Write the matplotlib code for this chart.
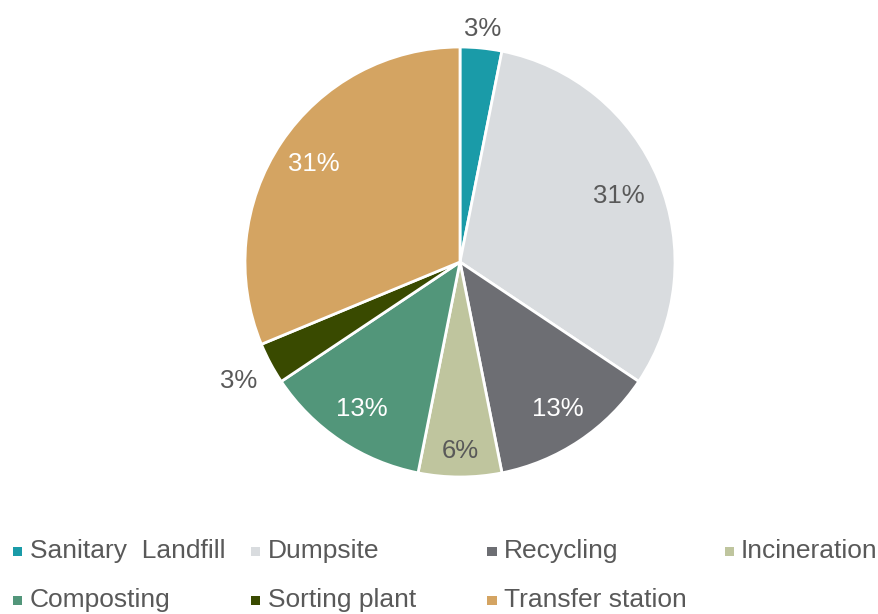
import numpy as np
import matplotlib.pyplot as plt
from matplotlib.patches import Rectangle

plt.rcParams['font.family'] = ['Liberation Sans', 'DejaVu Sans']

# Data
labels = ['Sanitary  Landfill', 'Dumpsite', 'Recycling', 'Incineration',
          'Composting', 'Sorting plant', 'Transfer station']
values = [1, 10, 4, 2, 4, 1, 10]
colors = ['#1A9BA8', '#D9DCDF', '#6D6E73', '#BFC59E', '#52967A', '#394A00', '#D4A462']

# label style per slice (distance from centre as fraction of radius, text colour)
label_dist = [1.09, 0.80, 0.82, 0.88, 0.82, 1.17, 0.82]
label_col = ['#595959', '#595959', 'white', '#595959', 'white', '#595959', 'white']

fig = plt.figure(figsize=(8.79, 6.14), dpi=100)
W, H = 879, 614
ax = fig.add_axes([245 / W, 137 / H, 430 / W, 430 / H])

total = sum(values)
wedges, _ = ax.pie(values, colors=colors, startangle=90, counterclock=False,
                   wedgeprops=dict(edgecolor='white', linewidth=2.0))
ax.set_aspect('equal')
ax.set_xlim(-1, 1)
ax.set_ylim(-1, 1)

for w, v, d, c in zip(wedges, values, label_dist, label_col):
    ang = np.deg2rad((w.theta1 + w.theta2) / 2)
    pct = round(v / total * 100 + 1e-9)
    ax.text(d * np.cos(ang), d * np.sin(ang), f'{pct:.0f}%', ha='center', va='center',
            fontsize=18.5, color=c)

# legend, Excel style: two rows of equal-width columns
col_x = [18, 256, 492, 729]
row_y = [551, 600]
for i, (lab, c) in enumerate(zip(labels, colors)):
    x = col_x[i % 4]
    y = row_y[i // 4]
    fig.add_artist(Rectangle(((x - 4.5) / W, 1 - (y + 4.5) / H), 9 / W, 9 / H,
                             transform=fig.transFigure, color=c, lw=0))
    fig.text((x + 12) / W, 1 - y / H, lab, ha='left', va='center',
             fontsize=19, color='#595959')

fig.savefig('out.png', dpi=100)
